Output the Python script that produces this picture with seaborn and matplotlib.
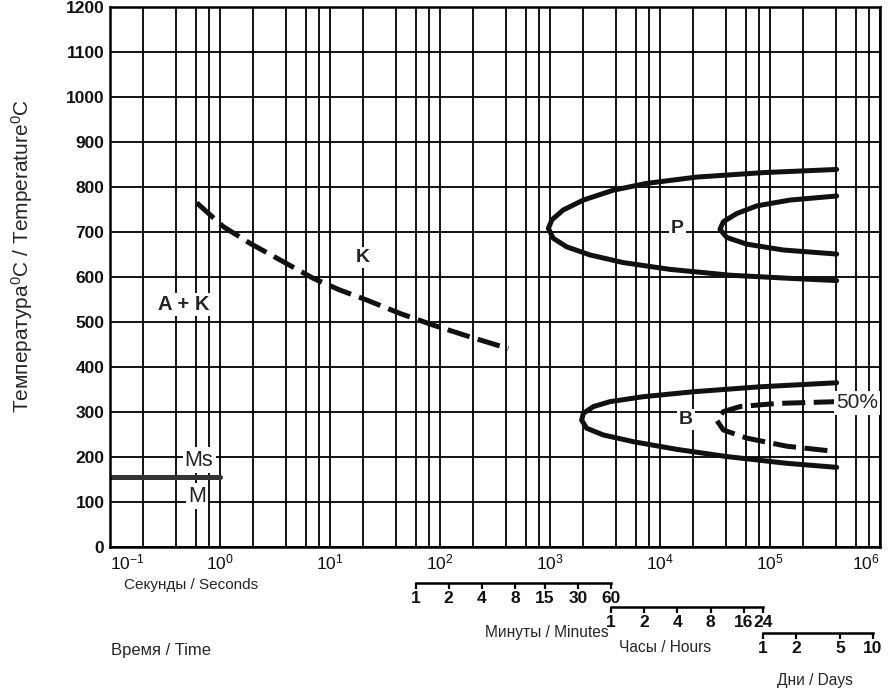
import matplotlib
matplotlib.use("Agg")
import matplotlib.pyplot as plt
from matplotlib.ticker import LogLocator, NullFormatter, NullLocator
import seaborn as sns

# --- data (time in seconds, temperature in degC) ---
k_time = [0.614, 1.07, 1.87, 3.51, 7.05, 12.3, 21.5, 43.3, 86.9, 187.0, 418.0]
k_temp = [765, 712, 675, 638, 597, 571, 549, 519, 493, 467, 441]

p_outer_time = [4.04e5, 8.69e4, 2.15e4, 7.57e3, 3.77e3, 2.01e3, 1.32e3, 1.04e3, 966,
                1.07e3, 1.42e3, 2.31e3, 4.64e3, 1.23e4, 4.33e4, 1.52e5, 4.04e5]
p_outer_temp = [839, 832, 822, 808, 793, 771, 749, 727, 708,
                686, 667, 649, 632, 617, 604, 597, 592]

p_inner_time = [4.04e5, 1.52e5, 7.57e4, 4.98e4, 3.77e4, 3.51e4, 4.04e4, 6.14e4, 1.32e5, 4.04e5]
p_inner_temp = [780, 771, 758, 741, 723, 706, 688, 673, 660, 651]

b_outer_time = [4.04e5, 8.11e4, 2.01e4, 7.05e3, 3.51e3, 2.48e3, 2.01e3, 1.94e3,
                2.15e3, 3.05e3, 5.73e3, 1.42e4, 4.04e4, 1.42e5, 4.04e5]
b_outer_temp = [365, 356, 345, 334, 323, 312, 297, 282,
                264, 249, 234, 217, 201, 186, 177]

b_inner_time = [4.04e5, 1.15e5, 5.33e4, 3.77e4, 3.27e4, 3.77e4, 6.14e4, 1.42e5, 4.04e5]
b_inner_temp = [323, 319, 312, 301, 282, 260, 242, 224, 212]

ms_time = [0.1, 1.0]
ms_temp = [156, 156]

y_ticks = list(range(0, 1300, 100))
x_decades = [10.0 ** k for k in range(-1, 7)]
x_labels = [r"$10^{-1}$", r"$10^{0}$", r"$10^{1}$", r"$10^{2}$",
            r"$10^{3}$", r"$10^{4}$", r"$10^{5}$", r"$10^{6}$"]

minutes = [1, 2, 4, 8, 15, 30, 60]
hours = [1, 2, 4, 8, 16, 24]
days = [1, 2, 5, 10]

# --- style ---
sns.set_theme(style="white")
plt.rcParams["font.family"] = ["Liberation Sans", "DejaVu Sans"]
plt.rcParams["mathtext.fontset"] = "custom"
plt.rcParams["mathtext.rm"] = "Liberation Sans"
plt.rcParams["mathtext.it"] = "Liberation Sans:italic"
plt.rcParams["mathtext.bf"] = "Liberation Sans:bold"

W, H = 892, 695
fig = plt.figure(figsize=(W / 100, H / 100), dpi=100)
L, R, T, B = 110, 880, 7, 547
ax = fig.add_axes([L / W, 1 - B / H, (R - L) / W, (B - T) / H])

ax.set_xscale("log")
ax.set_xlim(0.1, 1e6)
ax.set_ylim(0, 1200)

ax.set_xticks(x_decades)
ax.set_xticklabels(x_labels)
ax.xaxis.set_minor_locator(LogLocator(base=10, subs=[2, 4, 6, 8]))
ax.xaxis.set_minor_formatter(NullFormatter())
ax.set_yticks(y_ticks)
ax.set_yticklabels([str(v) for v in y_ticks])
ax.tick_params(which="both", length=0)
ax.tick_params(axis="y", pad=4, labelsize=12.5, labelcolor="#111111")
ax.tick_params(axis="x", pad=4, labelsize=12.5, labelcolor="#111111")
for lab in ax.get_yticklabels():
    lab.set_fontweight("bold")
xlabs = ax.get_xticklabels()
xlabs[0].set_horizontalalignment("left")
xlabs[-1].set_horizontalalignment("right")

ax.grid(which="both", color="black", linewidth=1.3)
ax.set_axisbelow(True)
for sp in ax.spines.values():
    sp.set_color("black")
    sp.set_linewidth(1.8)

lw = 3.6
dash = (0, (4.6, 1.7))
sns.lineplot(x=k_time, y=k_temp, ax=ax, sort=False, estimator=None,
             color="#111111", linewidth=lw, linestyle=dash)
sns.lineplot(x=p_outer_time, y=p_outer_temp, ax=ax, sort=False, estimator=None,
             color="#111111", linewidth=lw)
sns.lineplot(x=p_inner_time, y=p_inner_temp, ax=ax, sort=False, estimator=None,
             color="#111111", linewidth=lw)
sns.lineplot(x=b_outer_time, y=b_outer_temp, ax=ax, sort=False, estimator=None,
             color="#111111", linewidth=lw)
sns.lineplot(x=b_inner_time, y=b_inner_temp, ax=ax, sort=False, estimator=None,
             color="#111111", linewidth=lw, linestyle=dash)
sns.lineplot(x=ms_time, y=ms_temp, ax=ax, sort=False, estimator=None,
             color="#333333", linewidth=lw)

box = dict(facecolor="white", edgecolor="none", pad=1.5)
ax.text(0.466, 538, "A + K", fontsize=14.5, fontweight="bold", ha="center", va="center", bbox=box)
ax.text(20, 644, "K", fontsize=14, fontweight="bold", ha="center", va="center", bbox=box)
ax.text(1.43e4, 708, "P", fontsize=14, fontweight="bold", ha="center", va="center", bbox=box)
ax.text(1.72e4, 284, "B", fontsize=14, fontweight="bold", ha="center", va="center", bbox=box)
ax.text(0.645, 193, "Ms", fontsize=15.5, ha="center", va="center", color="#222222", bbox=box)
ax.text(0.62, 113, "M", fontsize=15.5, ha="center", va="center", color="#222222", bbox=box)
ax.text(6.2e5, 320, "50%", fontsize=15, ha="center", va="center", color="#222222", bbox=box)

# --- secondary time scales (minutes, hours, days) ---
def time_scale(ypix, values, unit):
    sax = fig.add_axes([L / W, 1 - ypix / H, (R - L) / W, 0.0001])
    sax.set_xscale("log")
    sax.set_xlim(0.1, 1e6)
    sax.patch.set_visible(False)
    for name in ["top", "left", "right"]:
        sax.spines[name].set_visible(False)
    sax.spines["bottom"].set_linewidth(1.8)
    sax.spines["bottom"].set_color("black")
    pos = [v * unit for v in values]
    sax.spines["bottom"].set_bounds(pos[0], pos[-1])
    sax.set_xticks(pos)
    sax.set_xticklabels([str(v) for v in values])
    sax.xaxis.set_minor_locator(NullLocator())
    sax.tick_params(axis="x", which="major", bottom=True, direction="out",
                    length=4, width=1.6, color="black", pad=2,
                    labelsize=12.5, labelcolor="#111111")
    for lab in sax.get_xticklabels():
        lab.set_fontweight("bold")
    sax.set_yticks([])
    return sax

time_scale(583, minutes, 60)
time_scale(607, hours, 3600)
time_scale(633, days, 86400)

# --- axis titles ---
fig.text(22 / W, 1 - 256 / H, r"Температура$^0$C / Temperature$^0$C",
         rotation=90, ha="center", va="center", fontsize=15)
fig.text(191 / W, 1 - 585 / H, "Секунды / Seconds", ha="center", va="center", fontsize=11)
fig.text(161 / W, 1 - 650 / H, "Время / Time", ha="center", va="center", fontsize=12)
fig.text(547 / W, 1 - 633 / H, "Минуты / Minutes", ha="center", va="center", fontsize=11.2)
fig.text(665 / W, 1 - 648 / H, "Часы / Hours", ha="center", va="center", fontsize=11.2)
fig.text(815 / W, 1 - 681 / H, "Дни / Days", ha="center", va="center", fontsize=11.2)

fig.savefig("out.png", dpi=100)
